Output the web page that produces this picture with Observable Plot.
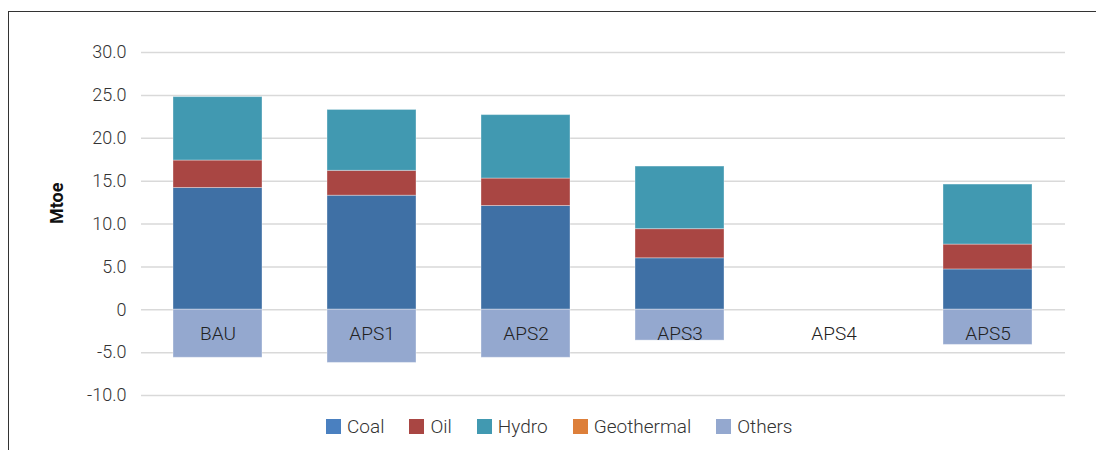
<!DOCTYPE html>
<html>
<head>
<meta charset="utf-8">
<script src="https://cdn.jsdelivr.net/npm/d3@7"></script>
<script src="https://cdn.jsdelivr.net/npm/@observablehq/plot@0.6"></script>
<style>
  html, body { margin: 0; padding: 0; background: #fff; }
  body { width: 1096px; height: 450px; position: relative; overflow: hidden; font-family: Roboto, "Noto Sans", sans-serif; }
  #frame { position: absolute; left: 8px; top: 11px; width: 1100px; height: 460px; border-top: 1.5px solid #333; border-left: 1.5px solid #333; box-sizing: border-box; }
  #chart { position: absolute; left: 0; top: 0; }
  #legend { position: absolute; left: 326px; top: 415px; display: flex; align-items: center; font-size: 19px; font-weight: 300; color: #333; }
  .item { display: flex; align-items: center; margin-right: 25px; }
  .sw { width: 15px; height: 15px; margin-right: 6px; }
</style>
</head>
<body>
<div id="frame"></div>
<div id="chart"></div>
<div id="legend"></div>
<script>
const categories = ["BAU", "APS1", "APS2", "APS3", "APS4", "APS5"];
const seriesNames = ["Coal", "Oil", "Hydro", "Geothermal", "Others"];
const coal       = [14.2, 13.3, 12.1, 6.0, 0, 4.7];
const oil        = [3.2, 2.9, 3.2, 3.4, 0, 2.9];
const hydro      = [7.4, 7.1, 7.4, 7.3, 0, 7.0];
const geothermal = [0, 0, 0, 0, 0, 0];
const others     = [-5.6, -6.2, -5.6, -3.6, 0, -4.1];
const yTicks = [-10, -5, 0, 5, 10, 15, 20, 25, 30];
const barColors = ["#3f70a5", "#a94643", "#4199b1", "#dd7f3a", "#94a8cf"];
const legendColors = ["#4a80c0", "#a94643", "#4199b1", "#dd7f3a", "#94a8cf"];

const valuesBySeries = [coal, oil, hydro, geothermal, others];
const data = [];
seriesNames.forEach((s, i) => {
  categories.forEach((c, j) => data.push({category: c, series: s, value: valuesBySeries[i][j]}));
});

const fmt = d => d === 0 ? "0" : d.toFixed(1);

const plot = Plot.plot({
  width: 1096,
  height: 410,
  marginLeft: 141,
  marginRight: 31,
  marginTop: 52,
  marginBottom: 15,
  style: {fontFamily: "Roboto, 'Noto Sans', sans-serif", fontSize: "18px", fontWeight: 300, color: "#333", background: "transparent"},
  x: {domain: categories, paddingInner: 0.42, paddingOuter: 0.21, axis: null},
  y: {
    domain: [-10, 30],
    ticks: yTicks,
    tickSize: 0,
    tickPadding: 15,
    tickFormat: fmt,
    label: null,
    grid: false
  },
  color: {domain: seriesNames, range: barColors},
  marks: [
    Plot.ruleY(yTicks, {stroke: "#d9d9d9", strokeWidth: 1.5}),
    Plot.barY(data, {x: "category", y: "value", fill: "series", order: seriesNames, stroke: "rgba(255,255,255,0.35)", strokeWidth: 1}),
    Plot.text(categories, {x: d => d, y: -2.8, text: d => d, fontSize: 19, fontWeight: 300, fill: "#222"}),
    Plot.text(["Mtoe"], {frameAnchor: "left", dx: -84, rotate: -90, text: d => d, fontWeight: "bold", fontSize: 18, fill: "#111"})
  ]
});
document.getElementById("chart").appendChild(plot);

const legend = document.getElementById("legend");
seriesNames.forEach((s, i) => {
  const item = document.createElement("div");
  item.className = "item";
  const sw = document.createElement("div");
  sw.className = "sw";
  sw.style.background = legendColors[i];
  const label = document.createElement("span");
  label.textContent = s;
  item.appendChild(sw);
  item.appendChild(label);
  legend.appendChild(item);
});
</script>
</body>
</html>
